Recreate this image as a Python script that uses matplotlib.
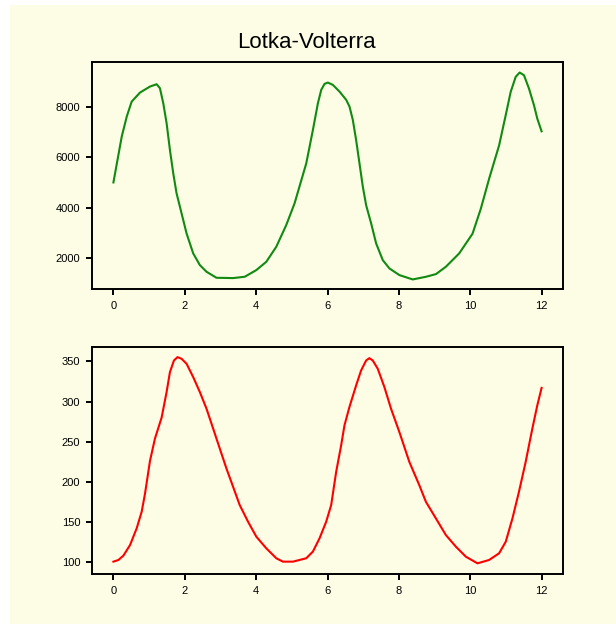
import matplotlib
matplotlib.use("Agg")
import matplotlib.pyplot as plt
from matplotlib.patches import Rectangle

plt.rcParams['font.family'] = ['Liberation Sans', 'DejaVu Sans']

# Prey (upper panel)
prey_t = [0.00, 0.233, 0.373, 0.512, 0.745, 1.025, 1.211, 1.304, 1.397, 1.491,
          1.584, 1.677, 1.770, 1.910, 2.050, 2.236, 2.422, 2.609, 2.888, 3.354,
          3.680, 4.006, 4.286, 4.565, 4.844, 5.077, 5.217, 5.405, 5.591, 5.731,
          5.824, 5.917, 6.010, 6.150, 6.336, 6.525, 6.617, 6.710, 6.802, 6.896,
          6.990, 7.083, 7.223, 7.363, 7.549, 7.735, 8.015, 8.388, 8.758, 9.040,
          9.317, 9.690, 10.064, 10.297, 10.530, 10.810, 10.994, 11.134, 11.274,
          11.385, 11.507, 11.647, 11.787, 11.880, 12.000]
prey = [5000, 6810, 7600, 8196, 8552, 8790, 8882, 8724, 8131, 7340,
        6285, 5362, 4571, 3780, 2988, 2197, 1736, 1472, 1234, 1221,
        1274, 1538, 1867, 2460, 3317, 4174, 4850, 5755, 7075, 8130,
        8658, 8895, 8948, 8855, 8592, 8262, 7998, 7470, 6679, 5756,
        4833, 4100, 3383, 2591, 1932, 1603, 1339, 1168, 1273, 1379,
        1669, 2196, 2974, 3963, 5150, 6469, 7655, 8580, 9173,
        9344, 9237, 8709, 8050, 7522, 7020]

# Predators (lower panel)
pred_t = [0.00, 0.140, 0.280, 0.466, 0.652, 0.792, 0.885, 1.025, 1.165, 1.351,
          1.491, 1.584, 1.696, 1.798, 1.910, 2.050, 2.236, 2.422, 2.609, 2.795,
          2.981, 3.168, 3.354, 3.540, 3.773, 4.006, 4.285, 4.565, 4.751, 5.031,
          5.403, 5.590, 5.776, 5.963, 6.103, 6.243, 6.383, 6.476, 6.615, 6.802,
          6.942, 7.082, 7.175, 7.268, 7.408, 7.594, 7.780, 8.013, 8.293, 8.572,
          8.758, 9.038, 9.317, 9.597, 9.877, 10.203, 10.529, 10.809, 10.996,
          11.183, 11.366, 11.554, 11.741, 11.880, 12.000]
pred = [100.4, 102.5, 107.9, 121.1, 141.9, 162.6, 185.0, 226.0, 254.0, 280.0,
        311.9, 336.7, 351.2, 355.4, 353.3, 347.1, 330.5, 311.9, 291.1, 266.3,
        241.4, 216.5, 193.7, 170.9, 150.2, 131.5, 117.0, 104.6, 100.4, 100.4,
        104.6, 112.9, 129.4, 150.2, 170.9, 212.4, 245.5, 270.4, 293.2, 320.1,
        338.8, 351.2, 354.1, 351.2, 340.9, 318.1, 291.1, 262.1, 224.8, 195.8,
        175.0, 154.3, 133.6, 119.1, 106.6, 98.3, 102.5, 110.8, 125.3,
        154.3, 187.5, 224.8, 266.3, 295.3, 317.0]

title = "Lotka-Volterra"
bg = '#fdfde5'

fig = plt.figure(figsize=(6.16, 6.24), dpi=100, facecolor='white')
fig.patches.append(Rectangle((10/616, 0), 1 - 10/616, 1 - 5/624,
                             transform=fig.transFigure, facecolor=bg,
                             edgecolor='none', zorder=-10))

ax1 = fig.add_axes([92/616, 1 - 289/624, 471/616, 227/624])
ax2 = fig.add_axes([92/616, 1 - 574/624, 471/616, 227/624])

ax1.plot(prey_t, prey, color='#108a10', lw=1.5, solid_joinstyle='round')
ax2.plot(pred_t, pred, color='#ff0000', lw=1.5, solid_joinstyle='round')

ax1.set_yticks([2000, 4000, 6000, 8000])
ax2.set_yticks([100, 150, 200, 250, 300, 350])
for ax in (ax1, ax2):
    ax.set_facecolor(bg)
    ax.set_xticks([0, 2, 4, 6, 8, 10, 12])
    ax.set_xlim(-0.6, 12.6)
    for s in ax.spines.values():
        s.set_linewidth(1.4)
        s.set_color('black')
    ax.tick_params(direction='out', length=4.5, width=1.4, labelsize=8,
                   pad=4, colors='black')

ax1.set_ylim(790, 9760)
ax2.set_ylim(85, 368)

fig.text(0.497, 1 - 42/624, title, ha='center', va='center', fontsize=16)

fig.savefig('out.png', dpi=100, facecolor=fig.get_facecolor())
